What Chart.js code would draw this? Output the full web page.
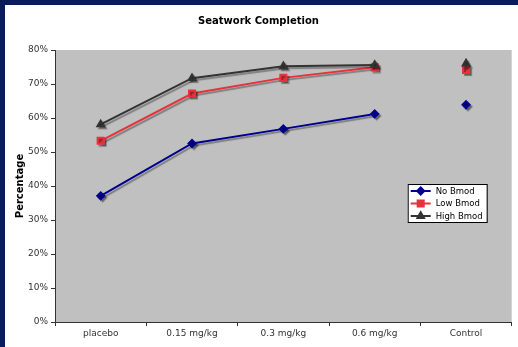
<!DOCTYPE html>
<html>
<head>
<meta charset="utf-8">
<script src="https://cdn.jsdelivr.net/npm/chart.js@4/dist/chart.umd.min.js"></script>
<style>
  html, body { margin: 0; padding: 0; background: #0b1d57; width: 518px; height: 347px; overflow: hidden; }
  #wrap { position: absolute; left: 5px; top: 5px; width: 513px; height: 342px; background: #fff; }
</style>
</head>
<body>
<div id="wrap"><canvas id="chart" width="513" height="342"></canvas></div>
<script>
// chart data
const categories = ['placebo', '0.15 mg/kg', '0.3 mg/kg', '0.6 mg/kg', 'Control'];
const noBmod   = [37.1, 52.5, 56.8, 61.2, 63.9];
const lowBmod  = [53.3, 67.2, 71.8, 74.9, 74.1];
const highBmod = [58.1, 71.7, 75.2, 75.6, 76.0];
const yTicks = [0, 10, 20, 30, 40, 50, 60, 70, 80];

const font = 'DejaVu Sans, Verdana, sans-serif';

// Control is a separate point, not joined to the dose curve
const hideLastSegment = {
    borderColor: c => c.p1DataIndex === categories.length - 1 ? 'rgba(0,0,0,0)' : undefined
};

// gray plot background
const plotBg = {
    id: 'plotBg',
    beforeDraw(chart) {
        const { ctx, chartArea: a } = chart;
        ctx.save();
        ctx.fillStyle = '#c0c0c0';
        ctx.fillRect(a.left, a.top, a.right - a.left, a.bottom - a.top);
        ctx.restore();
    }
};

// drop shadow under lines and markers
const shadow = {
    id: 'shadow',
    beforeDatasetDraw(chart) {
        const ctx = chart.ctx;
        ctx.save();
        ctx.shadowColor = 'rgba(0,0,0,0.35)';
        ctx.shadowOffsetX = 2;
        ctx.shadowOffsetY = 2;
        ctx.shadowBlur = 1;
    },
    afterDatasetDraw(chart) {
        chart.ctx.restore();
    }
};

// Excel style legend box: line + marker + label
const boxLegend = {
    id: 'boxLegend',
    afterDraw(chart) {
        const { ctx, chartArea: a } = chart;
        const x = a.right - 104, y = a.top + 134, w = 79, h = 38;
        ctx.save();
        ctx.fillStyle = '#fff';
        ctx.fillRect(x, y, w, h);
        ctx.strokeStyle = '#000';
        ctx.lineWidth = 1;
        ctx.strokeRect(x + 0.5, y + 0.5, w, h);
        ctx.font = '8.5px ' + font;
        ctx.textBaseline = 'middle';
        chart.data.datasets.forEach((ds, i) => {
            const ly = y + 7 + i * 12.5;
            ctx.strokeStyle = ds.borderColor;
            ctx.lineWidth = 2;
            ctx.beginPath();
            ctx.moveTo(x + 3, ly);
            ctx.lineTo(x + 23, ly);
            ctx.stroke();
            Chart.helpers.drawPoint(ctx, {
                pointStyle: ds.pointStyle, radius: ds.pointRadius, borderWidth: 1
            }, x + 13, ly);
            ctx.fillStyle = ds.borderColor;
            ctx.fill();
            ctx.fillStyle = '#000';
            ctx.fillText(ds.label, x + 28, ly + 0.5);
        });
        ctx.restore();
    }
};

const ctx = document.getElementById('chart').getContext('2d');
const chart = new Chart(ctx, {
    type: 'line',
    data: {
        labels: categories,
        datasets: [{
            label: 'No Bmod',
            data: noBmod,
            borderColor: '#000090',
            backgroundColor: '#000090',
            pointStyle: 'rectRot',
            pointRadius: 3.5,
            borderWidth: 2,
            order: 2,
            segment: hideLastSegment
        }, {
            label: 'Low Bmod',
            data: lowBmod,
            borderColor: '#e5333c',
            backgroundColor: '#e5333c',
            pointStyle: 'rect',
            pointRadius: 4.3,
            borderWidth: 2,
            order: 1,
            segment: hideLastSegment
        }, {
            label: 'High Bmod',
            data: highBmod,
            borderColor: '#333333',
            backgroundColor: '#333333',
            pointStyle: 'triangle',
            pointRadius: 3.8,
            borderWidth: 2,
            order: 0,
            segment: hideLastSegment
        }]
    },
    options: {
        responsive: false,
        animation: false,
        layout: { padding: { left: 0, right: 6, top: 0, bottom: 0 } },
        elements: { line: { tension: 0 }, point: { borderWidth: 1 } },
        plugins: {
            legend: { display: false },
            tooltip: { enabled: false },
            title: {
                display: true,
                text: 'Seatwork Completion',
                color: '#000',
                font: { family: font, size: 10, weight: 'bold' },
                padding: { top: 10, bottom: 23 }
            }
        },
        scales: {
            x: {
                offset: true,
                grid: { offset: true, drawOnChartArea: false, drawTicks: true, tickLength: 4, color: '#333' },
                border: { display: true, color: '#333', width: 1 },
                ticks: { color: '#333', padding: 2, font: { family: font, size: 9 }, maxRotation: 0 },
                afterFit(s) { s.height = 25; }
            },
            y: {
                min: 0,
                max: 80,
                afterBuildTicks(s) { s.ticks = yTicks.map(v => ({ value: v })); },
                grid: { drawOnChartArea: false, drawTicks: true, tickLength: 4, color: '#333' },
                border: { display: true, color: '#333', width: 1 },
                ticks: { color: '#333', padding: 3, font: { family: font, size: 9 }, callback: v => v + '%' },
                title: {
                    display: true,
                    text: 'Percentage',
                    color: '#000',
                    font: { family: font, size: 10, weight: 'bold' },
                    padding: { top: 9, bottom: 0 }
                },
                afterFit(s) { s.width = 50; }
            }
        }
    },
    plugins: [plotBg, shadow, boxLegend]
});
</script>
</body>
</html>
